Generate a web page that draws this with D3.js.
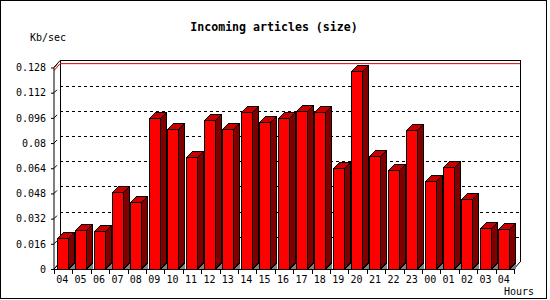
<!DOCTYPE html>
<html>
<head>
<meta charset="utf-8">
<script src="https://cdn.jsdelivr.net/npm/d3@7"></script>
<style>
  body { margin: 0; background: #fff; }
  svg text { font-family: "DejaVu Sans Mono", monospace; font-size: 10px; fill: #000; }
</style>
</head>
<body>
<svg id="chart" width="550" height="300"></svg>
<script>
// hours on the x axis, one bar each
const hours = ["04", "05", "06", "07", "08", "09", "10", "11", "12", "13", "14", "15", "16",
  "17", "18", "19", "20", "21", "22", "23", "00", "01", "02", "03", "04"];
// incoming size, Kb/sec
const kbps = [0.0195, 0.0245, 0.0239, 0.0486, 0.0423, 0.0961, 0.0892, 0.0714, 0.0949, 0.0892,
  0.0999, 0.0936, 0.0961, 0.1006, 0.0999, 0.0644, 0.1260, 0.0720, 0.0632, 0.0885,
  0.0562, 0.0651, 0.0444, 0.0258, 0.0252];
const yTicks = [0, 0.016, 0.032, 0.048, 0.064, 0.08, 0.096, 0.112, 0.128];

const svg = d3.select("#chart");

// frame round the whole picture
svg.append("rect")
  .attr("x", 0.5).attr("y", 0.5)
  .attr("width", 546).attr("height", 298)
  .attr("fill", "#fff").attr("stroke", "#000");

const plotLeft = 54, plotRight = 514, plotBottom = 269, plotTop = 67.5;
const wallDx = 6, wallDy = 7;   // depth of the back wall
const barDx = 6, barDy = 6;     // depth of each bar

const x = d3.scaleBand()
  .domain(d3.range(hours.length))
  .range([plotLeft, plotRight]);

const y = d3.scaleLinear()
  .domain([0, 0.128])
  .range([plotBottom, plotTop]);

const g = svg.append("g").attr("shape-rendering", "crispEdges");

// back wall
g.append("path")
  .attr("d", `M${plotLeft + wallDx},${plotBottom - wallDy}V${plotTop - wallDy}H${plotRight + wallDx}V${plotBottom - wallDy}`)
  .attr("fill", "none").attr("stroke", "#000");

// dashed grid on the back wall
g.append("g")
  .selectAll("line")
  .data(yTicks.slice(1, -1))
  .join("line")
  .attr("x1", plotLeft + wallDx).attr("x2", plotRight + wallDx)
  .attr("y1", (d) => Math.round(y(d) - wallDy) + 0.5)
  .attr("y2", (d) => Math.round(y(d) - wallDy) + 0.5)
  .attr("stroke", "#000")
  .attr("stroke-dasharray", "3,3");

// small slanted marks on the left wall
g.append("g")
  .selectAll("line")
  .data(yTicks)
  .join("line")
  .attr("x1", plotLeft).attr("y1", (d) => y(d))
  .attr("x2", plotLeft + 3).attr("y2", (d) => y(d) - 3)
  .attr("stroke", "#000")
  .attr("shape-rendering", "auto");

// red line at the maximum value
const maxVal = d3.max(kbps);
g.append("path")
  .attr("d", `M${plotLeft},${y(maxVal)}L${plotLeft + wallDx},${y(maxVal) - wallDy}H${plotRight + wallDx}`)
  .attr("fill", "none").attr("stroke", "#e00000")
  .attr("shape-rendering", "auto");

// floor and side edges
g.append("path")
  .attr("d", `M${plotLeft},${plotBottom}L${plotLeft + wallDx},${plotBottom - wallDy}M${plotRight},${plotBottom}L${plotRight + wallDx},${plotBottom - wallDy}M${plotLeft},${plotTop}L${plotLeft + wallDx},${plotTop - wallDy}`)
  .attr("fill", "none").attr("stroke", "#000")
  .attr("shape-rendering", "auto");

// 3d bars
const bars = g.append("g").selectAll("g")
  .data(kbps)
  .join("g")
  .attr("stroke", "#000")
  .attr("stroke-linejoin", "miter");

const fx0 = (i) => Math.round(x(i) + 2.7) + 0.5;
const fx1 = (i) => fx0(i) + 11;
const fyt = (d) => Math.round(y(d)) + 0.5;

bars.append("polygon")
  .attr("points", (d, i) => [[fx1(i), plotBottom], [fx1(i) + barDx, plotBottom - barDy], [fx1(i) + barDx, plotBottom]].join(" "))
  .attr("fill", "#808080").attr("stroke", "none");

bars.append("polygon")
  .attr("points", (d, i) => [[fx1(i), fyt(d)], [fx1(i) + barDx, fyt(d) - barDy], [fx1(i) + barDx, plotBottom - barDy], [fx1(i), plotBottom]].join(" "))
  .attr("fill", "#800000");

bars.append("polygon")
  .attr("points", (d, i) => [[fx0(i), fyt(d)], [fx0(i) + barDx, fyt(d) - barDy], [fx1(i) + barDx, fyt(d) - barDy], [fx1(i), fyt(d)]].join(" "))
  .attr("fill", "#c80000");

bars.append("rect")
  .attr("x", (d, i) => fx0(i))
  .attr("y", (d) => fyt(d))
  .attr("width", 11)
  .attr("height", (d) => plotBottom - fyt(d))
  .attr("fill", "#ff0000");

// y axis
const yAxis = svg.append("g")
  .attr("transform", `translate(${plotLeft},0)`)
  .call(d3.axisLeft(y).tickValues(yTicks).tickFormat((d) => String(d)).tickSize(3).tickPadding(5));
yAxis.select(".domain").attr("stroke", "#000").attr("d", `M0,${plotBottom}V${plotTop}`);
yAxis.selectAll("text").style("font-family", "DejaVu Sans Mono").style("font-size", "10px");

// x axis: labels in the middle of each hour, ticks between hours
const xAxis = svg.append("g")
  .attr("transform", `translate(-1,${plotBottom})`)
  .call(d3.axisBottom(x).tickFormat((i) => hours[i]).tickSize(0).tickPadding(7));
xAxis.select(".domain").remove();
xAxis.selectAll("text").style("font-family", "DejaVu Sans Mono").style("font-size", "10px");

svg.append("line")
  .attr("x1", plotLeft).attr("x2", plotRight)
  .attr("y1", plotBottom + 0.5).attr("y2", plotBottom + 0.5)
  .attr("stroke", "#000");

svg.append("g")
  .attr("shape-rendering", "crispEdges")
  .selectAll("line")
  .data(d3.range(hours.length + 1))
  .join("line")
  .attr("x1", (i) => Math.round(plotLeft + i * x.step()) + 0.5)
  .attr("x2", (i) => Math.round(plotLeft + i * x.step()) + 0.5)
  .attr("y1", plotBottom).attr("y2", plotBottom + 5)
  .attr("stroke", "#000");

// titles
svg.append("text")
  .attr("x", 274).attr("y", 31)
  .attr("text-anchor", "middle")
  .style("font-weight", "bold")
  .style("font-size", "11.6px")
  .text("Incoming articles (size)");

svg.append("text")
  .attr("x", 30).attr("y", 41)
  .text("Kb/sec");

svg.append("text")
  .attr("x", 504).attr("y", 295)
  .text("Hours");
</script>
</body>
</html>
